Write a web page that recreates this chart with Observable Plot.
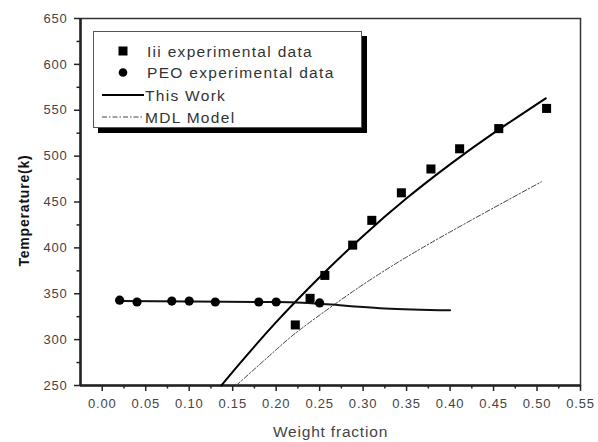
<!DOCTYPE html>
<html><head><meta charset="utf-8">
<script src="https://cdn.jsdelivr.net/npm/d3@7"></script>
<script src="https://cdn.jsdelivr.net/npm/@observablehq/plot@0.6"></script>
<style>
body{margin:0;background:#fff;}
#wrap{position:relative;width:598px;height:442px;font-family:"Liberation Sans",Arial,sans-serif;}
#wrap svg.chart text{letter-spacing:0.8px;}
g[aria-label="xlabel"] text{letter-spacing:1.3px;}
g[aria-label="ylabel"] text{letter-spacing:1.2px;}
#legend{position:absolute;left:93px;top:31px;}
#legend text{font-family:"Liberation Sans",Arial,sans-serif;font-size:15.5px;letter-spacing:1.3px;fill:#333;}
</style></head><body><div id="wrap"></div>
<script>
// ---- data ----
const iiiX = [0.222, 0.239, 0.256, 0.288, 0.310, 0.344, 0.378, 0.411, 0.456, 0.511];
const iiiY = [316, 345, 370, 403, 430, 460, 486, 508, 530, 552];
const peoX = [0.02, 0.04, 0.08, 0.10, 0.13, 0.18, 0.20, 0.25];
const peoY = [343, 341, 342, 342, 341, 341, 341, 340];
const workIiiX = [0.137, 0.16, 0.20, 0.25, 0.30, 0.35, 0.40, 0.45, 0.51];
const workIiiY = [250, 276, 319, 368, 413, 454, 491, 525, 563];
const workPeoX = [0.02, 0.10, 0.20, 0.23, 0.28, 0.325, 0.40];
const workPeoY = [342, 341.5, 341, 340.3, 337, 334, 332];
const mdlX = [0.154, 0.20, 0.229, 0.271, 0.30, 0.35, 0.424, 0.505];
const mdlY = [250, 289, 312, 341, 360, 390, 430, 472];
const xMajor = [0, 0.05, 0.10, 0.15, 0.20, 0.25, 0.30, 0.35, 0.40, 0.45, 0.50, 0.55];
const xMinor = [0.025, 0.075, 0.125, 0.175, 0.225, 0.275, 0.325, 0.375, 0.425, 0.475, 0.525];
const yMajor = [250, 300, 350, 400, 450, 500, 550, 600, 650];
const yMinor = [275, 325, 375, 425, 475, 525, 575, 625];
const xDomain = [-0.025, 0.55];
const yDomain = [250, 650];
const legendLabels = ["Iii experimental data", "PEO experimental data", "This Work", "MDL Model"];
const xLabel = "Weight fraction";
const yLabel = "Temperature(k)";

const zip = (xs, ys) => xs.map((x, i) => ({x, y: ys[i]}));
const iii = zip(iiiX, iiiY);
const peo = zip(peoX, peoY);
const workIii = zip(workIiiX, workIiiY);
const workPeo = zip(workPeoX, workPeoY);
const mdl = zip(mdlX, mdlY);

const chart = Plot.plot({
  width: 598, height: 442,
  marginLeft: 80, marginRight: 18, marginTop: 18, marginBottom: 57,
  className: "chart",
  x: {domain: xDomain},
  y: {domain: yDomain},
  style: {fontFamily: "Liberation Sans, Arial, sans-serif", fontSize: "13px", color: "#444", background: "white", overflow: "visible"},
  marks: [
    Plot.frame({stroke: "#333", strokeWidth: 1.5}),
    Plot.axisX({ticks: xMajor, tickFormat: d3.format(".2f"), tickSize: 6, tickPadding: 7, label: null, stroke: "#222", strokeWidth: 1.5}),
    Plot.axisX({ticks: xMinor, tickFormat: () => "", tickSize: 3.5, label: null, stroke: "#222", strokeWidth: 1.5}),
    Plot.axisY({ticks: yMajor, tickFormat: d3.format("d"), tickSize: 6, tickPadding: 7, label: null, stroke: "#222", strokeWidth: 1.5}),
    Plot.axisY({ticks: yMinor, tickFormat: () => "", tickSize: 3.5, label: null, stroke: "#222", strokeWidth: 1.5}),
    Plot.ruleX([xDomain[0]], {stroke: "#222", strokeWidth: 2.5}),
    Plot.ruleY([yDomain[0]], {stroke: "#222", strokeWidth: 2.5}),
    Plot.line(mdl, {x: "x", y: "y", stroke: "#444", strokeWidth: 1, strokeDasharray: "5,2,1.5,2", curve: "natural"}),
    Plot.line(workIii, {x: "x", y: "y", stroke: "#000", strokeWidth: 2, curve: "natural"}),
    Plot.line(workPeo, {x: "x", y: "y", stroke: "#111", strokeWidth: 2, curve: "monotone-x"}),
    Plot.dot(peo, {x: "x", y: "y", r: 4.6, fill: "#000", stroke: null}),
    Plot.dot(iii, {x: "x", y: "y", symbol: "square", r: 5.1, fill: "#000", stroke: null}),
    Plot.text([xLabel], {frameAnchor: "bottom", dy: 47, lineAnchor: "middle", textAnchor: "middle", text: d => d, fontSize: 15.5, fill: "#444", ariaLabel: "xlabel"}),
    Plot.text([yLabel], {frameAnchor: "left", dx: -56, dy: 8.5, rotate: -90, textAnchor: "middle", lineAnchor: "middle", text: d => d, fontSize: 14, fontWeight: "bold", fill: "#111", ariaLabel: "ylabel"})
  ]
});
const wrap = document.getElementById("wrap");
wrap.appendChild(chart);

// ---- legend overlay ----
const lg = d3.select(wrap).append("svg").attr("id", "legend").attr("width", 280).attr("height", 110);
lg.append("rect").attr("x", 5).attr("y", 5).attr("width", 269).attr("height", 97).attr("fill", "#000");
lg.append("rect").attr("x", 0.5).attr("y", 0.5).attr("width", 268).attr("height", 96).attr("fill", "#fff").attr("stroke", "#555").attr("stroke-width", 1);
const rowY = [20, 41.5, 64, 86];
lg.append("rect").attr("x", 30 - 4.5).attr("y", rowY[0] - 4.5).attr("width", 9).attr("height", 9).attr("fill", "#000");
lg.append("circle").attr("cx", 30).attr("cy", rowY[1]).attr("r", 4.3).attr("fill", "#000");
lg.append("line").attr("x1", 9).attr("x2", 51).attr("y1", rowY[2]).attr("y2", rowY[2]).attr("stroke", "#000").attr("stroke-width", 2);
lg.append("line").attr("x1", 9).attr("x2", 51).attr("y1", rowY[3]).attr("y2", rowY[3]).attr("stroke", "#444").attr("stroke-width", 1).attr("stroke-dasharray", "5,2,1.5,2");
legendLabels.forEach((t, i) => {
  lg.append("text").attr("x", i < 2 ? 54 : 52).attr("y", rowY[i]).attr("dy", "0.36em").text(t);
});
</script>
</body></html>
